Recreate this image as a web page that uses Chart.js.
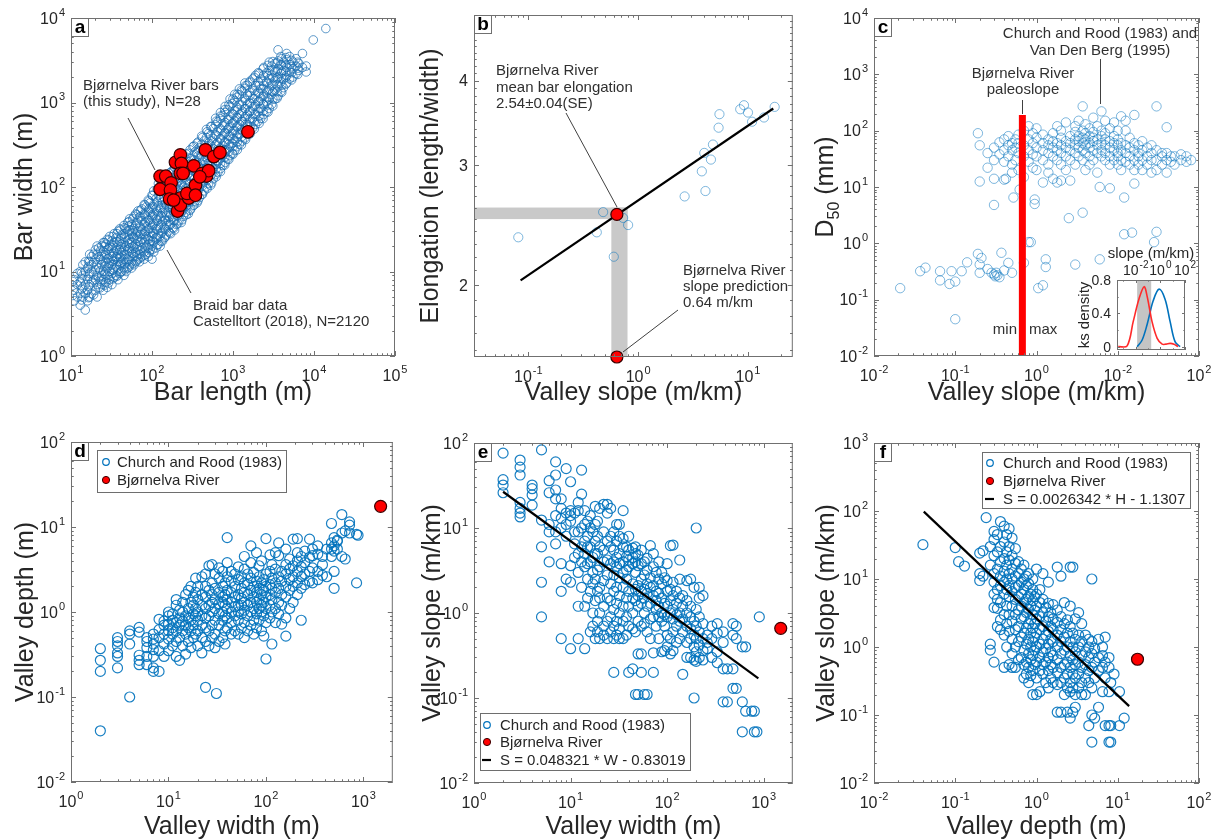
<!DOCTYPE html>
<html>
<head>
<meta charset="utf-8">
<script src="https://cdn.jsdelivr.net/npm/chart.js@4"></script>
<style>
  body { margin: 0; background: #fff; width: 1217px; height: 839px; position: relative; overflow: hidden; }
  canvas { position: absolute; }
</style>
</head>
<body>
<canvas id="ca" width="415" height="420" style="left:0;top:0"></canvas>
<canvas id="cb" width="400" height="420" style="left:400px;top:0"></canvas>
<canvas id="cc" width="417" height="420" style="left:800px;top:0"></canvas>
<canvas id="ci" width="140" height="115" style="left:1060px;top:240px"></canvas>
<canvas id="cd" width="400" height="419" style="left:0;top:420px"></canvas>
<canvas id="ce" width="400" height="419" style="left:400px;top:420px"></canvas>
<canvas id="cf" width="417" height="419" style="left:800px;top:420px"></canvas>
<script>
const FONT = '"Liberation Sans", Arial, Helvetica, sans-serif';

// ---- panel a: braid bar length vs width (grouped by bar length)
const lenA = [11,12,13,14,15,16,17,18,20,21,22,24,25,27,28,30,32,34,36,38,40,42,45,48,50,53,56,60,63,67,70,75,80,85,90,95,100,105,112,120,126,135,142,150,160,170,180,190,200,215,230,245,260,280,300,320,340,360,385,410,440,470,500,530,570,610,650,700,750,800,860,920,980,1050,1120,1200,1300,1400,1500,1600,1750,1900,2050,2200,2400,2600,2800,3000,3300,3600,3900,4200,4600,5000,5500,6000,6500,7200,8000,9800,14000];
const widA = [
  [4.5,6,8],[5,7,9.5],[4,5.5,7.5,10],[5,6.5,9,12],[3.5,5.5,7,10,13],[4.5,6,8,11],[5,7,9.5,13,16],[5.5,7.5,10,12,15],[6,8,10.5,14,18],[5,7,9,12,16,20],
  [6.5,8.5,11,15,19],[7,9,12,15,20],[6,8,10,13,17,22],[7.5,10,13,16,21],[6.5,9,11,14,18,24],[8,10,12.5,16,20,26],[7,9.5,12,15,19,23],[8.5,11,14,17,22,28],[9,12,15,19,25],[8,10.5,13,16,21,30],
  [9.5,12,15,18,23,32],[10,13,17,21,27],[9,11,14,18,22,28,35],[10,13,16,20,25,32],[11,14,18,23,30,38],[12,15,19,24,31,42],[11,13,17,22,28,36],[12,15,19,25,32,45],[13,17,21,27,35,48],[14,18,23,30,40,52],
  [13,16,20,26,34,44],[15,19,24,31,40,55],[14,17,22,28,36,48,62],[16,20,26,34,44,58],[15,19,24,31,40,52,70],[18,23,29,38,50,65],[14,20,26,33,43,56,80],[17,22,28,37,48,62,90],[19,25,32,42,55,72],[21,27,35,46,60,80,110],
  [20,26,33,43,56,75],[23,30,39,50,66,88,120],[25,33,43,56,74,98],[27,35,46,60,80,105,140],[30,39,50,65,86,115],[28,36,47,62,82,110,150],[33,43,56,74,98,130],[31,40,52,68,90,120,170],[36,47,62,82,108,145],[40,52,68,90,118,160,210],
  [38,50,65,86,112,150],[45,58,76,100,130,175,230],[50,65,85,112,148,195],[48,62,82,108,142,185,250],[55,72,95,125,165,215],[60,78,102,135,178,235,300],[68,88,115,150,198,260],[65,85,112,148,195,255,330],[75,98,128,168,220,290],[82,108,140,185,240,320,400],
  [90,118,155,205,270,350],[100,130,170,225,295,385,480],[110,145,190,250,330,430],[105,138,180,238,312,410,520],[125,165,215,285,375,490],[140,185,240,315,415,545,650],[150,198,260,340,450,590],[165,215,285,375,490,640,760],[180,235,310,405,530,700],[195,255,335,440,580,760,900],
  [215,280,365,480,630,820],[235,305,400,525,690,900,1100],[250,330,430,565,740,970],[270,355,465,610,800,1050,1250],[300,390,510,670,880,1150],[320,420,550,720,940,1230,1450],[350,460,600,790,1030,1350],[380,500,650,850,1120,1470,1700],[420,550,720,940,1230,1600],[450,590,770,1000,1320,1720],
  [500,650,850,1110,1450,1900],[550,720,940,1230,1600,2100],[600,780,1020,1330,1750,2250],[650,850,1110,1450,1900],[720,940,1230,1600,2100,2600],[780,1020,1330,1750,2250],[850,1100,1450,1900,2400,3000],[950,1250,1600,2100,2700],[1100,1400,1800,2300,2900],[1200,1550,2000,2500,3100,4200],
  [1350,1750,2200,2800,3500],[1500,1900,2400,3000],[1700,2100,2600,3200,3800],[1900,2300,2800,3500],[2000,2500,3000],[2200,2700,3300],[2400,2900],[2600,3800],[2300,2700],[5500],[7500]
];
// second, interleaved set of the same cloud
const lenA2 = [10.5,13.5,16.5,19,23,26,29,33,37,41,46,52,58,65,72,82,92,102,116,130,146,165,185,208,235,265,295,330,370,420,480,545,620,700,790,890,1000,1130,1270,1430,1620,1830,2100,2350,2700,3100,3500,4000,4500,5300,6300];
const widA2 = [
  [5.2,6.8,7.6],[4.6,6.2,8.3,9.6],[4.9,6.6,8.8,11.5,13.2],[5.3,7.9,9.1,12.8,16],[6.4,7.7,10.2,13.8,17.5],[6.9,9.3,11.6,15.5,19.8,22],[7.3,8.6,11.8,14.2,18.6,23.5],[8.2,10.4,13.2,16.4,20.2,26],[8.8,11.3,14.6,17.8,22.4,28],[9.9,12.6,14.4,19.5,24.6,31],
  [10.4,12.2,15.8,19.2,25.5,33],[11.3,13.6,17.4,21.3,27.5,34.8,39],[12.4,16.2,19.8,25.8,30.4,42],[13.4,15.2,19.4,24.7,29.2,37.5,47],[14.5,17.6,22.5,27.4,33.6,44.5,53],[15.6,18.9,24.3,29.7,38.3,46.8,61],[16.7,21.2,25.8,32.4,41.6,55.2,68],[18.4,22.9,28.6,35.4,45.6,58.3,79],[20.6,24.8,31.4,40.3,51.6,66.4,94],[22.8,28.3,35.8,45.2,57.4,74.6,108],
  [25.6,31.8,40.6,49.6,63.8,84.4,122],[28.7,35.6,44.3,57.3,71.5,96.5,146],[32.6,40.3,51.2,64.8,82.4,108,160],[36.8,45.6,58.2,72.6,94.3,125,188],[41,52.4,66.8,84.5,106,142,215],[47,59.4,75.3,96.4,122,162,245],[53,67.5,85.6,108,138,182,275],[61,78.4,97.6,124,158,208,305],[69,88.5,112,140,178,232,340],[82,103,128,162,204,265,385],
  [96,121,150,188,238,305,450],[112,141,174,218,276,352,520],[132,164,205,254,320,410,600],[152,190,236,292,370,470,690],[182,224,276,342,430,545,820],[212,262,322,398,500,632,940],[244,300,372,460,575,725,1100],[275,342,424,525,655,825,1250],[315,390,482,598,745,935,1400],[365,450,555,685,850,1060,1580],
  [425,520,640,790,975,1210,1780],[485,595,730,900,1110,1380,1980],[565,690,845,1040,1280,1580,2200],[645,790,965,1180,1450,1780,2500],[770,935,1140,1390,1700,2080,2750],[910,1100,1340,1620,1960,2400,3050],[1120,1350,1620,1950,2350,2950],[1320,1600,1920,2300,2750,3300],[1650,1980,2350,2800,3400],[1850,2250,2650,3150],
  [2150,2550,3000]
];
const bjornLenA = [126,148,126,172,169,165,195,224,231,224,224,207,224,284,270,328,344,416,457,471,500,580,690,1530,390,185,242,344];
const bjornWidA = [134,134,94,112,92,72,196,240,190,145,74,52,61,74,84,178,105,145,275,135,156,229,256,450,132,70,145,80];

// ---- panel b: valley slope vs bar elongation
const slopeB = [0.081,0.42,0.48,0.6,0.73,0.81,2.65,3.8,4.1,4.0,4.6,4.8,5.4,5.5,8.5,9.2,10,10.9,14,17.5];
const elongB = [2.35,2.39,2.56,2.20,2.51,2.45,2.70,2.94,2.75,3.13,3.06,3.22,3.41,3.57,3.63,3.68,3.59,3.48,3.53,3.66];
const fitBX = [0.085, 17];
const fitBY = [2.03, 3.64];
const bandBX = [0.57, 0.80];
const bandBY = [2.50, 2.60];
const yMinB = 1.565, yMaxB = 5;
const bjornB = { slope: 0.64, elong: 2.54 };

// ---- panel c: valley slope vs D50 (grouped by slope)
const slopeC = [0.021,0.037,0.043,0.065,0.085,0.09,0.1,0.12,0.14,0.19,0.2,0.21,0.25,0.28,0.3,0.31,0.32,0.33,0.35,0.37,0.4,0.42,0.45,0.5,0.52,0.55,0.6,0.62,0.7,0.8,0.85,0.9,0.95,1.0,1.05,1.2,1.3,1.4,1.6,1.8,2.0,2.3,2.5,2.6,3.0,3.3,3.7,4.0,4.5,5.0,5.6,6.0,6.3,7.0,8.0,9.0,10,11,12,12.5,14,15,16,18,20,23,26,28,30,35,40,45,50,60,70,80];
const d50C = [
  [0.16],[0.32],[0.37],[0.22,0.32],[0.19],[0.32],[0.21,0.045],[0.32],[0.46],[0.65,90],
  [0.3,0.42,12.5,55],[0.55],[0.35,22,40],[0.3],[0.28,4.8,14,30,50],[0.26],[0.3],[0.27],[0.25,38,62],[0.68],
  [0.33,13.5,28,45,70],[14],[0.45,35,55,80],[0.3,18,25,45,60],[6.5],[30,50,70],[20,40,60,85],[9],[0.45,15,35,55,100],[1.05,28,45,70,120],
  [1.05],[22,38,60,90],[5,6],[20,35,50,75,110],[0.16],[0.18,12,30,45,60,85],[0.38,0.52],[18,25,40,55,70],[14,35,50,65,90],[12,30,45,60,120],
  [13,25,40,55,75,100],[20,35,50,65,140],[2.8],[13,30,45,60,80],[0.42,25,40,55,70,95,120],[35,50,65,80,150],[3.5,30,45,60,75,100,270],[20,40,55,70,90,130],[25,35,50,60,80,110],[30,45,65,75,95,170],
  [18,40,55,70,120],[0.52,10],[35,45,60,80,100,220],[30,40,55,70,90,150],[9.5,25,35,50,65,110],[30,45,60,80,140],[25,35,40,55,70,100],[20,30,45,60,180],[6.5,1.45],[28,40,55,100,150],
  [25,35,50,75],[1.55],[11.5,20,30,45,60,190],[25,35,40,55],[20,30,45,65],[25,35,50],[18,30,40,55],[1.05],[1.6,20,30,45,270],[25,35,40],
  [18,30,40,115],[28,35],[25,35],[30,38],[28,35],[30]
];
const paleoX = [0.67, 0.67];
const paleoY = [0.01, 190];

// ---- panel c inset: ks density of slope
const insetRedX = [0.00038,0.002,0.0062,0.019,0.048,0.085,0.21,0.55,1.4,2.9,6.2,13,27];
const insetRedY = [0,0.01,0.3,0.58,0.72,0.6,0.3,0.1,0.03,0.03,0.04,0.03,0];
const insetBlueX = [0.013,0.033,0.085,0.26,0.79,2.4,6.2,15.5,40];
const insetBlueY = [0,0.08,0.27,0.55,0.69,0.57,0.3,0.06,0];
const insetBand = [0.013, 0.18];

// ---- panel d: valley width vs depth (grouped by width)
const widthD = [2,3,4,5,6,7,8,9,10,11,12,13,14,15,16,17,18,19,20,22,24,26,28,30,31,33,36,38,40,44,48,52,56,60,65,70,75,80,85,90,95,100,110,115,125,135,145,160,175,190,210,230,250,280,300,340,380,420,470,500,540,600,650,720,850,880];
const depthD = [
  [0.04,0.2,0.27,0.37],[0.22,0.3,0.33,0.4,0.45,0.5],[0.1,0.42,0.55,0.6],[0.24,0.27,0.31,0.58,0.66],[0.24,0.3,0.38,0.45,0.5],[0.2,0.22,0.3,0.36,0.42,0.48,0.55],[0.2,0.35,0.5,0.62,0.82],[0.3,0.42,0.55,0.7,0.78],[0.35,0.48,0.6,0.72,0.9,1.0],[0.4,0.55,0.65,0.8,0.95],
  [0.3,0.45,0.6,0.75,1.2,1.4],[0.27,0.5,0.7,0.85,1.05],[0.4,0.6,0.78,1.0,1.3],[0.32,0.55,0.7,0.9,1.6],[0.45,0.65,0.85,1.1,1.8],[0.38,0.6,0.8,1.3,2.0],[0.5,0.7,0.95,1.2,1.5],[0.55,0.9,1.1,1.7,2.5],[0.4,0.6,0.8,1.0,1.4,2.0],[0.33,0.5,0.7,0.9,1.2,1.6,2.6],
  [0.13,0.45,0.65,0.85,1.1,1.5,2.0,2.8],[0.4,0.6,0.9,1.2,1.8,3.5],[0.5,0.7,1.0,1.3,1.6,2.2,3.6],[0.38,0.55,0.8,1.1,1.4,1.9,2.8],[0.11],[0.45,0.7,0.95,1.25,1.7,2.5,3.3],[0.5,0.8,1.0,1.3,1.5,2.0,3.0],[0.42,0.6,0.9,1.2,1.6,2.2],[0.65,0.85,1.1,1.4,1.8,2.6,3.8,7.5],[0.55,0.75,1.0,1.3,1.7,2.3,3.0],
  [0.6,0.9,1.15,1.5,2.0,2.8],[0.55,0.8,1.0,1.2,1.6,2.4,3.4],[0.65,0.95,1.2,1.45,1.9,2.6],[0.5,0.75,1.05,1.3,1.7,2.2,3.2,4.5],[0.6,0.9,1.2,1.6,2.1,2.8],[0.7,1.0,1.3,1.8,2.5,3.8,6.0],[0.55,0.8,1.1,1.5,2.0,2.9],[0.65,0.95,1.3,1.7,2.3,5.0],[0.8,1.1,1.4,1.9,2.6,3.5],[0.6,1.0,1.2,1.6,2.2,4.0],
  [0.52,0.9,1.3,1.8,2.4],[0.28,0.75,1.1,1.5,2.0,2.8,7.3],[0.85,1.2,1.6,2.1,3.0,4.7],[0.42,1.0,1.4,1.9,2.5,3.6],[0.75,1.1,1.7,2.2,3.2,5.0],[0.95,1.3,1.9,2.6,4.6,6.5],[0.72,1.2,1.6,2.3,3.0],[0.52,0.85,1.5,2.0,2.8,3.6,5.5],[1.1,1.8,2.4,3.2,4.2],[1.3,2.0,2.6,3.5,7.2],
  [1.6,2.2,3.0,4.0,5.0,7.3],[0.8,1.9,2.6,3.4,4.5],[2.1,2.8,3.8,5.2],[2.3,3.0,4.4,7.2],[2.2,3.3,4.6,5.5],[2.4,3.0,4.8,6.0],[2.7,3.6,4.5],[2.6,5.5],[4.5,5.5,6.5,11],[1.9,3.0,5.2,6.0,7.5],
  [5.5,6.8,7.0],[4.5,8.5,14],[4.2,9.0],[8.5,10.5,11.5],[2.2,8.2],[8.0]
];
const bjornWidthM = 1500, bjornDepthM = 17.5, bjornSlope = 0.66;

// ---- panel e: valley width vs slope (grouped by width)
const widthE = [2,3,4,5,6,7,8,9,10,11,12,13,14,15,16,17,18,19,20,22,24,26,28,30,32,35,38,40,44,47,50,54,58,62,67,72,77,82,88,94,100,108,115,125,135,145,160,175,190,200,215,235,260,290,330,380,420,480,520,600,650,750,800,850,900];
const slopeE = [
  [26,32,37,76],[13.5,15,17,20,42,52,63],[18.6,24.5,29,32],[0.9,2.3,6,12.4,83],[4,9,11,26,36],[6.5,9,14,22,28,42,60],[0.5,1.8,3.8,10,13,17,22],[2.5,8,11,15,50],[0.38,2.3,3.6,12,14,16,35],[4.5,6.5,9,15],
  [0.5,1.2,3,5,9,16,20],[2,4,6,10,25,48],[0.38,1.2,3.5,5,7,11,16],[1.5,2.5,3.8,6,8,12],[0.6,1.8,4,6,10,14],[0.7,1.0,2.2,3,4.5,9],[0.5,1.4,2.5,5,7,11,18],[0.6,0.8,1.8,3.2,5,8,12],[0.5,1.0,1.5,2,3.5,6,17],[0.55,0.7,1.2,2.4,4,5.5,9,19],
  [0.5,0.8,1.5,2.8,4.2,7,15,19],[0.6,0.9,1.4,2.2,3.8,6,8,17],[0.2,0.5,0.7,1.1,1.8,2.8,4,5.5,9],[0.55,0.8,1.3,2,3.5,4.5,7,11],[0.5,0.65,1.0,1.6,2.6,3.8,5,8,11],[0.5,0.8,1.2,2,3,4,6,7.5,16],[0.55,0.9,1.5,2.5,3.2,4.6,6],[0.2,0.7,1.2,1.8,3.5,4.2,5.5,8],[0.22,0.65,1.0,1.5,2.2,3.8,4.5,5.8],[0.11,0.6,1.4,1.9,3,4,5,6],
  [0.11,0.33,0.8,1.2,1.6,2.1,3.6,4.8],[0.2,0.33,0.7,1.3,1.8,2.5,3.8,5.5],[0.11,0.75,1.0,1.5,1.9,2.8,4],[0.11,0.6,1.2,1.7,2.2,3.2,4.4],[0.5,0.85,1.3,2,2.6,6.2],[0.2,0.34,0.9,1.6,2.1,3.5,5],[0.7,1.1,1.4,1.8,3],[0.5,0.9,1.2,1.7,2.5,4],[0.35,0.8,1.0,1.5,2.2,3],[0.36,0.7,0.95,1.3,2.6],
  [0.4,0.55,0.9,1.2,1.8,2.4,3.8],[0.33,0.5,1.0,1.4,1.9,6.2],[0.36,0.6,0.85,1.1,1.6,2.3,6.3],[0.45,0.7,0.95,1.3,1.8],[0.5,0.8,1.0,1.5,2.5,4.2],[0.19,0.6,0.85,1.2,1.6],[0.3,0.45,0.7,1.0,1.4,2.4],[0.3,0.5,0.65,0.9,1.2,2.5],[0.1,0.28,0.4,0.55,0.8,2.0],[0.27,0.35,0.5,0.7,1.1,10],
  [0.3,0.42,0.6,0.9,1.5,2],[0.28,0.36,0.5,0.75,1.6],[0.38,0.45,0.55],[0.3,0.5,0.7],[0.26,0.35,0.58,0.75],[0.09,0.22,0.45,0.6],[0.09,0.22],[0.13,0.22,0.55,0.75],[0.13,0.5,0.7],[0.04,0.09,0.4],
  [0.07,0.4],[0.07],[0.07,0.04],[0.04],[0.9]
];
const fitEX = [2, 880];
const fitEY = [26.7, 0.17];

// ---- panel f: valley depth vs slope (grouped by depth)
const depthF = [0.04,0.1,0.11,0.13,0.2,0.22,0.24,0.27,0.3,0.33,0.36,0.4,0.43,0.46,0.5,0.55,0.6,0.65,0.7,0.75,0.8,0.85,0.9,0.95,1.0,1.1,1.2,1.3,1.4,1.5,1.6,1.8,2.0,2.2,2.4,2.6,2.8,3.0,3.3,3.6,4.0,4.4,4.8,5.2,5.8,6.5,7.0,7.8,8.2,9.0,10.5,12];
const slopeF = [
  [32],[29],[18],[15.5],[9.5,12,24],[11,26],[80],[0.9,1.1,16,30],[0.6,3.8,6,9,12,22,38,50],[2,3.7,5,7,14,25,45],
  [1.8,2.5,4.5,8,11,18,30,70],[0.5,1.5,3,6,9,13,20,35,60],[1.0,2.2,4,7,10,16,25,45],[0.55,1.7,3,5.5,8,12,19,30,55],[0.5,0.8,1.3,2.4,4,6.5,10,14,22,40],[0.5,1.0,1.8,3,5,7.5,11,17,28],[0.65,1.2,2,3.5,5.5,8,12,18],[0.7,1.4,2.6,4,6,9,14],[0.35,0.55,0.9,1.6,2.8,4.5,7,10,16],[0.4,0.6,1.1,1.9,3.2,5,8,11],
  [0.3,0.5,0.8,1.3,2.2,3.6,5.5,8.5,12],[0.38,0.65,1.0,1.6,2.5,4,6],[0.2,0.45,0.75,1.2,1.9,3,4.8,7,10],[0.55,0.9,1.4,2.2,3.5,5.5],[0.2,0.35,0.6,1.0,1.6,2.6,4,6,14],[0.22,0.45,0.7,1.1,1.8,2.8,4.5,7],[0.4,0.55,0.85,1.3,2,3.2,5,12],[0.3,0.6,0.95,1.5,2.4,3.8],[0.25,0.45,0.7,1.1,1.7,2.8,4.4,9],[0.35,0.55,0.85,1.3,2,3.2],
  [0.3,0.5,0.75,1.2,1.8,2.6,4.2],[0.11,0.28,0.42,0.65,1.0,1.5,2.3,3.5,15],[0.11,0.3,0.5,0.8,1.2,1.8,2.8,11],[0.2,0.35,0.55,0.9,1.4,2.2,4.5],[0.11,0.25,0.4,0.6,1.0,1.6,2.5],[0.09,0.22,0.3,0.5,0.75,1.2,2,4,15],[0.11,0.25,0.4,0.65,1.0,1.6,15],[0.13,0.2,0.35,0.55,0.85,1.3,2.6],[0.25,0.4,0.6,1.0,1.5,3.2],[0.2,0.3,0.5,0.75,1.2,2.2],
  [0.2,0.35,0.55,0.85,1.5],[0.07,0.3,0.45,0.7,1.0,1.3],[0.04,0.1,0.25,0.5,0.8,1.2,10],[0.09,0.35,0.6,0.95],[0.13,0.45,0.7,1.3],[0.22,0.5,0.75,1.0],[0.07,0.35,0.6,1.4],[0.04,0.07,0.22,0.5,0.7],[0.04,0.07,0.3],[0.4],
  [0.07,0.22],[0.09]
];
const fitFX = [0.041, 13.8];
const fitFY = [98, 0.135];

// ---------- helpers
function grouped(xs, lists) { const out = []; xs.forEach((x, i) => lists[i].forEach(y => out.push({ x, y }))); return out; }
function paired(xs, ys) { return xs.map((x, i) => ({ x, y: ys[i] })); }

function ring(data, color, r, w) {
  return { data, showLine: false, pointRadius: r, pointBorderWidth: w, pointBorderColor: color, pointBackgroundColor: 'rgba(0,0,0,0)', order: 3 };
}
function dot(data, r) {
  return { data, showLine: false, pointRadius: r, pointBorderWidth: 1.2, pointBorderColor: '#3a0000', pointBackgroundColor: '#ff0000', order: 0, clip: false };
}
function path(data, color, w, tension) {
  return { data, showLine: true, borderColor: color, borderWidth: w, pointRadius: 0, order: 1, tension: tension || 0, borderCapStyle: 'butt' };
}

function logMinors(min, max) {
  const out = [];
  for (let k = Math.floor(Math.log10(min)); k <= Math.ceil(Math.log10(max)); k++) {
    for (let m = 2; m <= 9; m++) {
      const v = m * Math.pow(10, k);
      if (v > min * 1.0001 && v < max * 0.9999) out.push(v);
    }
  }
  return out;
}
function decades(a, b) { const out = []; for (let k = a; k <= b; k++) out.push([Math.pow(10, k), '10', String(k)]); return out; }

function txt(ctx, s, x, y, size, align, bold) {
  ctx.font = (bold ? 'bold ' : '') + size + 'px ' + FONT;
  ctx.textAlign = align || 'left';
  ctx.textBaseline = 'alphabetic';
  ctx.fillText(s, x, y);
}
function segs(ctx, x, y, parts) {
  let w = 0;
  parts.forEach(p => { ctx.font = p[1] + 'px ' + FONT; w += ctx.measureText(p[0]).width; });
  let cx = x - w / 2;
  ctx.textAlign = 'left';
  ctx.textBaseline = 'alphabetic';
  parts.forEach(p => { ctx.font = p[1] + 'px ' + FONT; ctx.fillText(p[0], cx, y + p[2]); cx += ctx.measureText(p[0]).width; });
}
function pow(ctx, x, y, base, exp, align, size) {
  const es = Math.round(size * 0.7);
  ctx.font = size + 'px ' + FONT;
  const wb = ctx.measureText(base).width;
  ctx.font = es + 'px ' + FONT;
  const we = exp ? ctx.measureText(exp).width + 1 : 0;
  const w = wb + we;
  const x0 = align === 'center' ? x - w / 2 : align === 'right' ? x - w : x;
  ctx.textAlign = 'left';
  ctx.textBaseline = 'alphabetic';
  ctx.font = size + 'px ' + FONT;
  ctx.fillText(base, x0, y);
  if (exp) { ctx.font = es + 'px ' + FONT; ctx.fillText(exp, x0 + wb + 1, y - size * 0.5); }
}
function seg(ctx, x1, y1, x2, y2) { ctx.beginPath(); ctx.moveTo(x1, y1); ctx.lineTo(x2, y2); ctx.stroke(); }

function legend(ctx, box, items) {
  ctx.fillStyle = '#fff';
  ctx.fillRect(box[0], box[1], box[2] - box[0], box[3] - box[1]);
  ctx.strokeStyle = '#6e6e6e'; ctx.lineWidth = 1;
  ctx.strokeRect(box[0] + 0.5, box[1] + 0.5, box[2] - box[0], box[3] - box[1]);
  items.forEach(it => {
    if (it.k === 'o') {
      ctx.strokeStyle = 'rgb(0,114,189)'; ctx.lineWidth = 1.2;
      ctx.beginPath(); ctx.arc(it.mx, it.y, 3.3, 0, Math.PI * 2); ctx.stroke();
    } else if (it.k === 'r') {
      ctx.fillStyle = '#ff0000'; ctx.strokeStyle = '#3a0000'; ctx.lineWidth = 1;
      ctx.beginPath(); ctx.arc(it.mx, it.y, 3.6, 0, Math.PI * 2); ctx.fill(); ctx.stroke();
    } else {
      ctx.strokeStyle = '#000'; ctx.lineWidth = 2.2;
      seg(ctx, it.mx - 5, it.y, it.mx + 4, it.y);
    }
    ctx.fillStyle = '#262626';
    txt(ctx, it.t, it.tx, it.y + 5, 15);
  });
}

// axes box, inward ticks on all four sides, tick labels, titles and panel letter
function frame(c) {
  return {
    id: 'frame',
    beforeDatasetsDraw(chart) {
      const ctx = chart.ctx;
      ctx.save();
      if (c.under) c.under(chart, ctx);
      ctx.restore();
    },
    afterDatasetsDraw(chart) {
      const ctx = chart.ctx, a = chart.chartArea, sx = chart.scales.x, sy = chart.scales.y;
      ctx.save();
      ctx.strokeStyle = '#707070'; ctx.lineWidth = 1;
      const L = c.tickLen || 5, l = L * 0.55;
      const xt = (v, len) => { const p = Math.round(sx.getPixelForValue(v)) + 0.5; seg(ctx, p, a.bottom, p, a.bottom - len); seg(ctx, p, a.top, p, a.top + len); };
      const yt = (v, len) => { const p = Math.round(sy.getPixelForValue(v)) + 0.5; seg(ctx, a.left, p, a.left + len, p); seg(ctx, a.right, p, a.right - len, p); };
      c.xLabels.forEach(t => xt(t[0], L));
      (c.xMinor || []).forEach(v => xt(v, l));
      c.yLabels.forEach(t => yt(t[0], L));
      (c.yMinor || []).forEach(v => yt(v, l));
      ctx.strokeRect(a.left + 0.5, a.top + 0.5, a.width - 1, a.height - 1);

      ctx.fillStyle = '#262626';
      const ts = c.tickSize || 16;
      const xly = c.xLabelTop ? a.top - 5 : a.bottom + 25;
      c.xLabels.forEach(t => pow(ctx, sx.getPixelForValue(t[0]), xly, t[1], t[2], 'center', ts));
      c.yLabels.forEach(t => pow(ctx, a.left - 6, sy.getPixelForValue(t[0]) + ts * 0.36, t[1], t[2], 'right', ts));

      if (c.xTitle) segs(ctx, (a.left + a.right) / 2, c.xTitleY, c.xTitle);
      if (c.yTitle) {
        ctx.save();
        ctx.translate(c.yTitleX, (a.top + a.bottom) / 2);
        ctx.rotate(-Math.PI / 2);
        segs(ctx, 0, c.yTitle[0][1] * 0.36, c.yTitle);
        ctx.restore();
      }
      if (c.letter) {
        ctx.fillStyle = '#fff';
        ctx.fillRect(a.left + 1, a.top + 1, 16, 17);
        ctx.strokeStyle = '#707070';
        ctx.strokeRect(a.left + 0.5, a.top + 0.5, 17, 18);
        ctx.fillStyle = '#000';
        txt(ctx, c.letter, a.left + 9, a.top + 15, 19, 'center', true);
      }
      if (c.over) { ctx.fillStyle = '#303030'; ctx.strokeStyle = '#404040'; ctx.lineWidth = 1; c.over(chart, ctx); }
      ctx.restore();
    }
  };
}

function plot(id, datasets, xs, ys, pad, c) {
  return new Chart(document.getElementById(id), {
    type: 'scatter',
    data: { datasets },
    options: {
      responsive: false, animation: false, events: [], devicePixelRatio: 1,
      layout: { padding: pad },
      plugins: { legend: { display: false }, tooltip: { enabled: false } },
      scales: {
        x: { type: xs.type || 'logarithmic', min: xs.min, max: xs.max, display: false },
        y: { type: ys.type || 'logarithmic', min: ys.min, max: ys.max, display: false }
      }
    },
    plugins: [frame(c)]
  });
}

const RING = 'rgba(0,114,189,0.9)';
const RING_LIGHT = 'rgba(0,114,189,0.5)';
const RING_A = 'rgba(25,110,178,0.7)';
const title25 = s => [[s, 25, 0]];

// ---------- a
plot('ca', [
  dot(paired(bjornLenA, bjornWidA), 6.3),
  ring(grouped(lenA, widA), RING_A, 4.3, 1),
  ring(grouped(lenA2, widA2), RING_A, 4.3, 1)
], { min: 10, max: 1e5 }, { min: 1, max: 1e4 }, { left: 71, right: 20, top: 18, bottom: 64 }, {
  xLabels: decades(1, 5), xMinor: logMinors(10, 1e5),
  yLabels: decades(0, 4), yMinor: logMinors(1, 1e4),
  xTitle: title25('Bar length (m)'), xTitleY: 400,
  yTitle: title25('Bar width (m)'), yTitleX: 23, letter: 'a',
  over(chart, ctx) {
    txt(ctx, 'Bjørnelva River bars', 83, 90, 15);
    txt(ctx, '(this study), N=28', 83, 106, 15);
    seg(ctx, 128, 118, 155, 170);
    txt(ctx, 'Braid bar data', 193, 310, 15);
    txt(ctx, 'Castelltort (2018), N=2120', 193, 326, 15);
    seg(ctx, 167, 250, 191, 293);
  }
});

// ---------- b
const minorB = [];
for (let v = 1.6; v < 4.95; v += 0.1) { const r = Math.round(v * 10) / 10; if (r !== 2 && r !== 3 && r !== 4) minorB.push(r); }
plot('cb', [
  dot([{ x: bjornB.slope, y: bjornB.elong }, { x: bjornB.slope, y: yMinB }], 6),
  path(paired(fitBX, fitBY), '#000', 2.2),
  ring(paired(slopeB, elongB), RING_LIGHT, 4.6, 1)
], { min: 0.032, max: 25.6 }, { min: yMinB, max: yMaxB }, { left: 74, right: 4, top: 15, bottom: 63 }, {
  xLabels: decades(-1, 1), xMinor: logMinors(0.032, 25.6),
  yLabels: [[2, '2', ''], [3, '3', ''], [4, '4', '']], yMinor: minorB,
  xTitle: title25('Valley slope (m/km)'), xTitleY: 400,
  yTitle: title25('Elongation (length/width)'), yTitleX: 29, letter: 'b',
  under(chart, ctx) {
    const a = chart.chartArea, sx = chart.scales.x, sy = chart.scales.y;
    const x0 = sx.getPixelForValue(bandBX[0]), x1 = sx.getPixelForValue(bandBX[1]);
    const y0 = sy.getPixelForValue(bandBY[0]), y1 = sy.getPixelForValue(bandBY[1]);
    ctx.fillStyle = '#c9c9c9';
    ctx.fillRect(a.left, y1, x1 - a.left, y0 - y1);
    ctx.fillRect(x0, y1, x1 - x0, a.bottom - y1);
  },
  over(chart, ctx) {
    txt(ctx, 'Bjørnelva River', 96, 75, 15);
    txt(ctx, 'mean bar elongation', 96, 92, 15);
    txt(ctx, '2.54±0.04(SE)', 96, 108, 15);
    seg(ctx, 166, 113, 217, 207);
    txt(ctx, 'Bjørnelva River', 283, 275, 15);
    txt(ctx, 'slope prediction', 283, 291, 15);
    txt(ctx, '0.64 m/km', 283, 307, 15);
    seg(ctx, 278, 310, 223, 352);
  }
});

// ---------- c
plot('cc', [
  path(paired(paleoX, paleoY), '#ff0000', 7),
  ring(grouped(slopeC, d50C), RING_LIGHT, 4.7, 1)
], { min: 0.01, max: 100 }, { min: 0.01, max: 1e4 }, { left: 74, right: 18, top: 18, bottom: 64 }, {
  xLabels: [[0.01, '10', '-2'], [0.1, '10', '-1'], [1, '10', '0'], [10, '10', '-2'], [100, '10', '2']],
  xMinor: logMinors(0.01, 100),
  yLabels: decades(-2, 4), yMinor: logMinors(0.01, 1e4),
  xTitle: title25('Valley slope (m/km)'), xTitleY: 400,
  yTitle: [['D', 25, 0], ['50', 16, 6], [' (mm)', 25, 0]], yTitleX: 24, letter: 'c',
  over(chart, ctx) {
    txt(ctx, 'Church and Rood (1983) and', 300, 38, 15, 'center');
    txt(ctx, 'Van Den Berg (1995)', 300, 55, 15, 'center');
    seg(ctx, 300.5, 59, 300.5, 104);
    txt(ctx, 'Bjørnelva River', 223, 78, 15, 'center');
    txt(ctx, 'paleoslope', 223, 94, 15, 'center');
    seg(ctx, 222.5, 100, 222.5, 114);
    txt(ctx, 'min', 217, 334, 15, 'right');
    txt(ctx, 'max', 229, 334, 15, 'left');
  }
});

// ---------- c inset
plot('ci', [
  path(paired(insetRedX, insetRedY), '#ff2a2a', 1.6, 0.35),
  path(paired(insetBlueX, insetBlueY), 'rgb(0,114,189)', 1.6, 0.35)
], { min: 0.000316, max: 100 }, { type: 'linear', min: -0.04, max: 0.8 }, { left: 57, right: 15, top: 40, bottom: 5 }, {
  xLabels: [[0.01, '10', '-2'], [1, '10', '0'], [100, '10', '2']], xMinor: [0.001, 0.1, 10],
  yLabels: [[0, '0', ''], [0.4, '0.4', ''], [0.8, '0.8', '']], yMinor: [0.2, 0.6],
  xLabelTop: true, tickSize: 14, tickLen: 3,
  under(chart, ctx) {
    const a = chart.chartArea, sx = chart.scales.x;
    ctx.fillStyle = '#fff';
    ctx.fillRect(a.left, a.top, a.width, a.height);
    const x0 = sx.getPixelForValue(insetBand[0]), x1 = sx.getPixelForValue(insetBand[1]);
    ctx.fillStyle = '#c4c4c4';
    ctx.fillRect(x0, a.top, x1 - x0, a.height);
  },
  over(chart, ctx) {
    const a = chart.chartArea;
    ctx.fillStyle = '#262626';
    txt(ctx, 'slope (m/km)', (a.left + a.right) / 2, 18, 15, 'center');
    ctx.save();
    ctx.translate(29, (a.top + a.bottom) / 2);
    ctx.rotate(-Math.PI / 2);
    txt(ctx, 'ks density', 0, 0, 15, 'center');
    ctx.restore();
  }
});

// ---------- d
plot('cd', [
  dot([{ x: bjornWidthM, y: bjornDepthM }], 6),
  ring(grouped(widthD, depthD), RING, 5, 1.2)
], { min: 1, max: 2000 }, { min: 0.01, max: 100 }, { left: 71, right: 5, top: 22, bottom: 57 }, {
  xLabels: decades(0, 3), xMinor: logMinors(1, 2000),
  yLabels: decades(-2, 2), yMinor: logMinors(0.01, 100),
  xTitle: title25('Valley width (m)'), xTitleY: 414,
  yTitle: title25('Valley depth (m)'), yTitleX: 24, letter: 'd',
  over(chart, ctx) {
    legend(ctx, [97, 30, 286, 72], [
      { k: 'o', mx: 106, tx: 117, y: 42, t: 'Church and Rood (1983)' },
      { k: 'r', mx: 106, tx: 117, y: 60, t: 'Bjørnelva River' }
    ]);
  }
});

// ---------- e
plot('ce', [
  dot([{ x: bjornWidthM, y: bjornSlope }], 6),
  path(paired(fitEX, fitEY), '#000', 2.2),
  ring(grouped(widthE, slopeE), RING, 5, 1.2)
], { min: 1, max: 2000 }, { min: 0.01, max: 100 }, { left: 74, right: 3, top: 23, bottom: 56 }, {
  xLabels: decades(0, 3), xMinor: logMinors(1, 2000),
  yLabels: decades(-2, 2), yMinor: logMinors(0.01, 100),
  xTitle: title25('Valley width (m)'), xTitleY: 414,
  yTitle: title25('Valley slope (m/km)'), yTitleX: 31, letter: 'e',
  over(chart, ctx) {
    legend(ctx, [80, 293, 290, 350], [
      { k: 'o', mx: 87, tx: 100, y: 305, t: 'Church and Rood (1983)' },
      { k: 'r', mx: 87, tx: 100, y: 322, t: 'Bjørnelva River' },
      { k: 'l', mx: 87, tx: 100, y: 340, t: 'S = 0.048321 * W - 0.83019' }
    ]);
  }
});

// ---------- f
plot('cf', [
  dot([{ x: bjornDepthM, y: bjornSlope }], 6),
  path(paired(fitFX, fitFY), '#000', 2.2),
  ring(grouped(depthF, slopeF), RING, 5, 1.2)
], { min: 0.01, max: 100 }, { min: 0.01, max: 1000 }, { left: 74, right: 18, top: 23, bottom: 56 }, {
  xLabels: decades(-2, 2), xMinor: logMinors(0.01, 100),
  yLabels: decades(-2, 3), yMinor: logMinors(0.01, 1000),
  xTitle: title25('Valley depth (m)'), xTitleY: 414,
  yTitle: title25('Valley slope (m/km)'), yTitleX: 25, letter: 'f',
  over(chart, ctx) {
    legend(ctx, [182, 32, 390, 88], [
      { k: 'o', mx: 190, tx: 203, y: 43, t: 'Church and Rood (1983)' },
      { k: 'r', mx: 190, tx: 203, y: 61, t: 'Bjørnelva River' },
      { k: 'l', mx: 190, tx: 203, y: 79, t: 'S = 0.0026342 * H - 1.1307' }
    ]);
  }
});
</script>
</body>
</html>
